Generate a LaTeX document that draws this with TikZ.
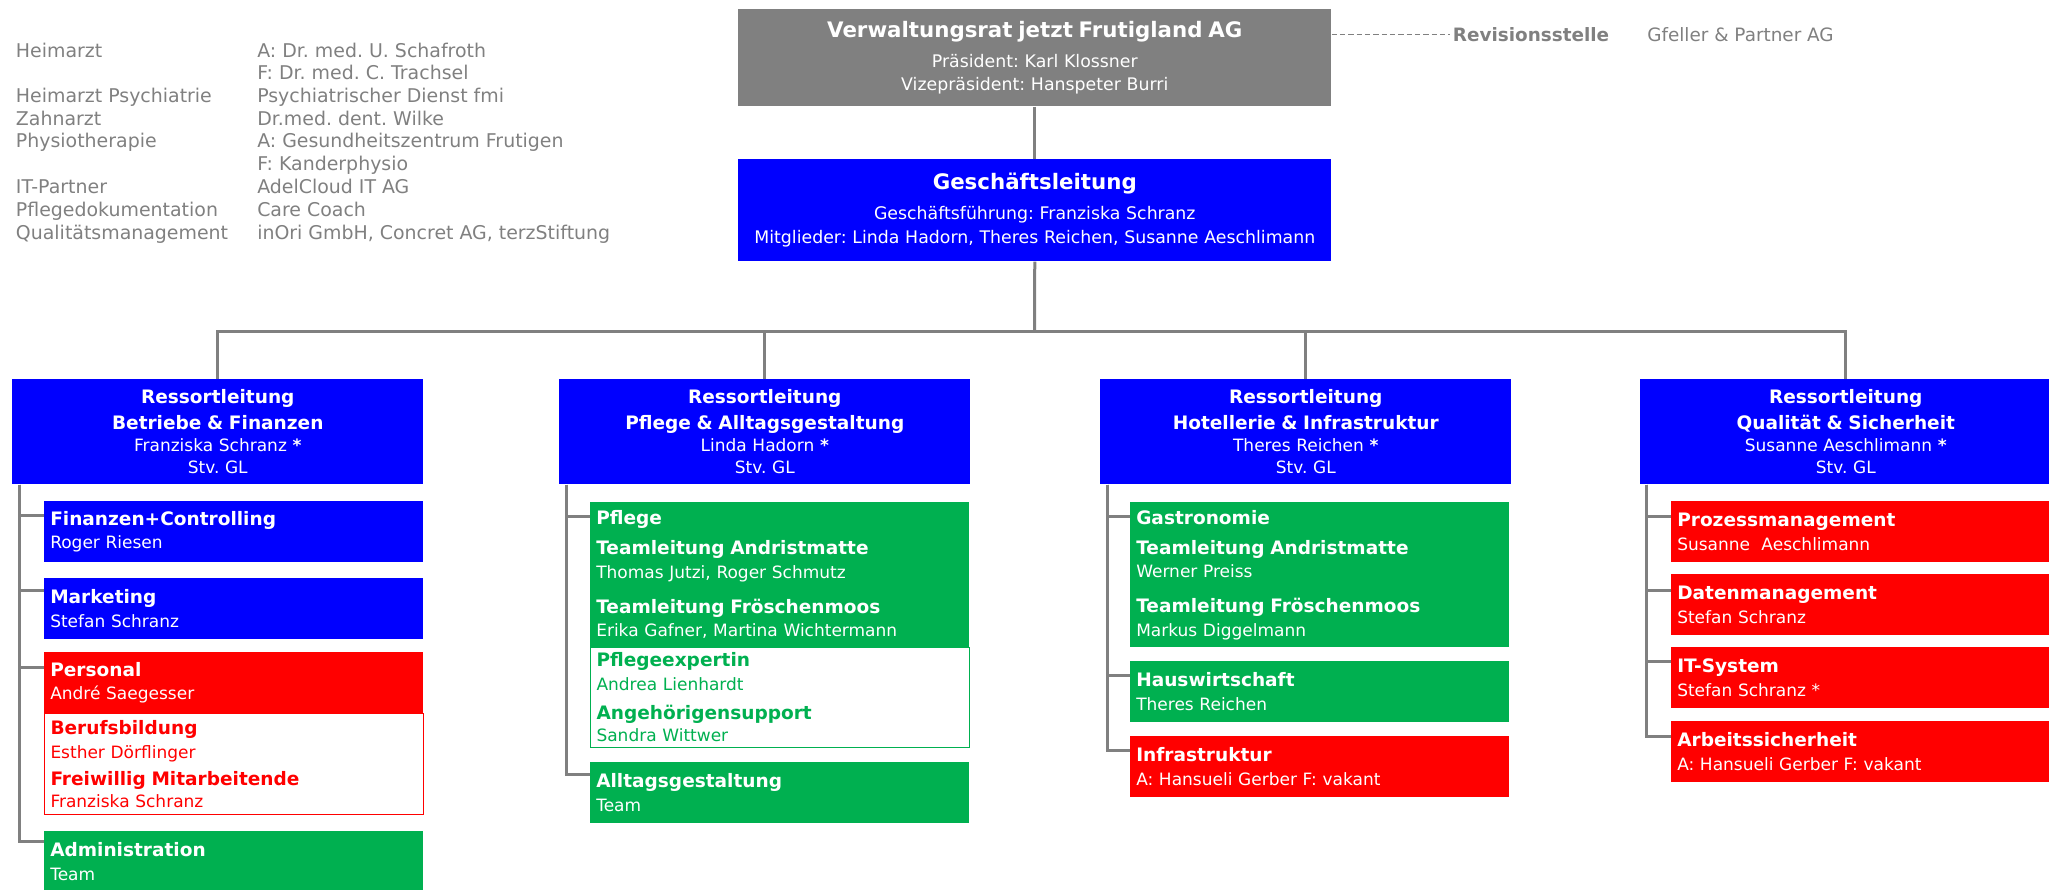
\documentclass[tikz,border=0pt]{standalone}
\usepackage{fontspec}
\setmainfont{DejaVu Sans}
\usepackage{xcolor}
\frenchspacing

\definecolor{boardgray}{RGB}{128,128,128}
\definecolor{deptblue}{RGB}{0,0,255}
\definecolor{unitgreen}{RGB}{0,176,80}
\definecolor{unitred}{RGB}{255,0,0}

\newcommand{\boardtitle}[1]{{\fontsize{16}{17.6}\selectfont\bfseries #1}}
\newcommand{\unittitle}[1]{{\fontsize{13.9}{17.6}\selectfont\bfseries #1}}

\begin{document}
\begin{tikzpicture}[x=0.75pt,y=0.75pt,yscale=-1,xscale=1,
  conn/.style={draw=boardgray, line width=2.25pt},
  auditline/.style={draw=boardgray, line width=0.75pt, dash pattern={on 4pt off 2.25pt}},
  partnertext/.style={anchor=base west, inner sep=0pt, text=boardgray, font=\fontsize{14.2}{17}\selectfont},
  headbox/.style={anchor=north west, inner xsep=4.5pt, inner ysep=0pt, text width=435.75pt, align=center, text=white, font=\fontsize{13}{17.6}\selectfont},
  deptbox/.style={anchor=north west, fill=deptblue, text=white, inner xsep=4.5pt, inner ysep=0pt, text width=299.25pt, minimum height=78.75pt, align=center, font=\fontsize{12.75}{17.6}\selectfont},
  unitbox/.style={anchor=north west, inner xsep=4.5pt, inner ysep=0pt, text width=275.25pt, minimum height=45.75pt, align=left, font=\fontsize{12.75}{17.6}\selectfont},
  bluebox/.style={unitbox, fill=deptblue, text=white},
  greenbox/.style={unitbox, fill=unitgreen, text=white},
  redbox/.style={unitbox, fill=unitred, text=white},
  greenframe/.style={unitbox, draw=unitgreen, line width=0.75pt, fill=white, text=unitgreen},
  redframe/.style={unitbox, draw=unitred, line width=0.75pt, fill=white, text=unitred}
]
  \useasboundingbox (0,0) rectangle (2049,889);

  % Text Node
  \node (doc) [partnertext] at (15.7,57) {Heimarzt};
  \node (docpsy) [partnertext] at (15.7,102.2) {Heimarzt Psychiatrie};
  \node (dentist) [partnertext] at (15.7,125) {Zahnarzt};
  \node (physio) [partnertext] at (15.7,147.8) {Physiotherapie};
  \node (itpartner) [partnertext] at (15.7,193.4) {IT-Partner};
  \node (careDoc) [partnertext] at (15.7,216.2) {Pflegedokumentation};
  \node (quality) [partnertext] at (15.7,239) {Qualitätsmanagement};
  % Text Node
  \node (docA) [partnertext] at (257,57) {A: Dr. med. U. Schafroth};
  \node (docF) [partnertext] at (257,79.6) {F: Dr. med. C. Trachsel};
  \node (docpsyName) [partnertext] at (257,102.2) {Psychiatrischer Dienst fmi};
  \node (dentistName) [partnertext] at (257,125) {Dr.med. dent. Wilke};
  \node (physioA) [partnertext] at (257,147.8) {A: Gesundheitszentrum Frutigen};
  \node (physioF) [partnertext] at (257,170.6) {F: Kanderphysio};
  \node (itpartnerName) [partnertext] at (257,193.4) {AdelCloud IT AG};
  \node (careDocName) [partnertext] at (257,216.2) {Care Coach};
  \node (qualityName) [partnertext] at (257,239) {inOri GmbH, Concret AG, terzStiftung};

  %Shape: Rectangle
  \node (vr) [headbox, fill=boardgray, minimum height=72.75pt] at (738,9) {\boardtitle{Verwaltungsrat jetzt Frutigland AG}\\[4.5pt] Präsident: Karl Klossner\\ Vizepräsident: Hanspeter Burri};
  %Shape: Rectangle
  \node (gl) [headbox, fill=deptblue, minimum height=76.5pt] at (738,159) {\boardtitle{Geschäftsleitung}\\[4.5pt] Geschäftsführung: Franziska Schranz\\[0.5pt] Mitglieder: Linda Hadorn, Theres Reichen, Susanne Aeschlimann};

  % Text Node
  \node (rev) [anchor=base west, inner xsep=2pt, inner ysep=0pt, text=boardgray, font=\fontsize{13.8}{17}\selectfont\bfseries] at (1450,41) {Revisionsstelle};
  \node (auditor) [partnertext, font=\fontsize{13.8}{17}\selectfont] at (1647,41) {Gfeller \& Partner AG};
  %Straight Lines
  \draw [auditline] (vr.east |- rev.west) -- (rev.west);

  %Shape: Rectangle
  \node (r1) [deptbox] at (12,379) {\unittitle{Ressortleitung}\\[2pt] \unittitle{Betriebe \& Finanzen}\\[-1pt] Franziska Schranz \textbf{*}\\[-1pt] Stv. GL};
  \node (r2) [deptbox] at (559,379) {\unittitle{Ressortleitung}\\[2pt] \unittitle{Pflege \& Alltagsgestaltung}\\[-1pt] Linda Hadorn \textbf{*}\\[-1pt] Stv. GL};
  \node (r3) [deptbox] at (1100,379) {\unittitle{Ressortleitung}\\[2pt] \unittitle{Hotellerie \& Infrastruktur}\\[-1pt] Theres Reichen \textbf{*}\\[-1pt] Stv. GL};
  \node (r4) [deptbox] at (1640,379) {\unittitle{Ressortleitung}\\[2pt] \unittitle{Qualität \& Sicherheit}\\[-1pt] Susanne Aeschlimann \textbf{*}\\[-1pt] Stv. GL};

  %Shape: Rectangle
  \node (fin) [bluebox] at (44,501) {\unittitle{Finanzen+Controlling}\\ Roger Riesen};
  \node (mkt) [bluebox] at (44,578) {\unittitle{Marketing}\\ Stefan Schranz};
  \node (pers) [redbox] at (44,652) {\unittitle{Personal}\\ André Saegesser};
  \node (beruf) [redframe, minimum height=75.75pt] at (44,713) {\unittitle{Berufsbildung}\\[1pt] Esther Dörflinger\\[2.5pt] \unittitle{Freiwillig Mitarbeitende}\\[-1pt] Franziska Schranz};
  \node (adm) [greenbox] at (44,831) {\unittitle{Administration}\\ Team};

  %Shape: Rectangle
  \node (pfl) [greenbox, minimum height=108.75pt] at (590,502) {\unittitle{Pflege}\\[5pt] \unittitle{Teamleitung Andristmatte}\\ Thomas Jutzi, Roger Schmutz\\[8.6pt] \unittitle{Teamleitung Fröschenmoos}\\ Erika Gafner, Martina Wichtermann};
  \node (pexp) [greenframe, minimum height=75pt] at (590,647) {\unittitle{Pflegeexpertin}\\ Andrea Lienhardt\\[4pt] \unittitle{Angehörigensupport}\\[-0.5pt] Sandra Wittwer};
  \node (allt) [greenbox] at (590,762) {\unittitle{Alltagsgestaltung}\\ Team};

  %Shape: Rectangle
  \node (gast) [greenbox, minimum height=108.75pt] at (1130,502) {\unittitle{Gastronomie}\\[5pt] \unittitle{Teamleitung Andristmatte}\\ Werner Preiss\\[8.6pt] \unittitle{Teamleitung Fröschenmoos}\\ Markus Diggelmann};
  \node (haus) [greenbox] at (1130,661) {\unittitle{Hauswirtschaft}\\ Theres Reichen};
  \node (infra) [redbox] at (1130,736) {\unittitle{Infrastruktur}\\ A: Hansueli Gerber F: vakant};

  %Shape: Rectangle
  \node (proz) [redbox] at (1671,501) {\unittitle{Prozessmanagement}\\ Susanne\ \ Aeschlimann};
  \node (daten) [redbox] at (1671,574) {\unittitle{Datenmanagement}\\ Stefan Schranz};
  \node (itsys) [redbox] at (1671,647) {\unittitle{IT-System}\\ Stefan Schranz *};
  \node (arbeit) [redbox] at (1671,721) {\unittitle{Arbeitssicherheit}\\ A: Hansueli Gerber F: vakant};

  %Straight Lines
  \coordinate (bus) at (1034.5,331);
  \draw [conn] (vr.south) -- (gl.north);
  \draw [conn] (gl.south) -- (bus);
  \draw [conn] (r1.north) |- (bus) -| (r4.north);
  \draw [conn] (r2.north) -- (r2.north |- bus);
  \draw [conn] (r3.north) -- (r3.north |- bus);

  %Straight Lines
  \draw [conn] ([xshift=5.6pt]r1.south west) |- ([yshift=10.5pt]fin.north west);
  \draw [conn] ([xshift=5.6pt]r1.south west) |- ([yshift=9.5pt]mkt.north west);
  \draw [conn] ([xshift=5.6pt]r1.south west) |- ([yshift=11.5pt]pers.north west);
  \draw [conn] ([xshift=5.6pt]r1.south west) |- ([yshift=8pt]adm.north west);
  \draw [conn] ([xshift=5.6pt]r2.south west) |- ([yshift=10.5pt]pfl.north west);
  \draw [conn] ([xshift=5.6pt]r2.south west) |- ([yshift=9pt]allt.north west);
  \draw [conn] ([xshift=5.6pt]r3.south west) |- ([yshift=10.5pt]gast.north west);
  \draw [conn] ([xshift=5.6pt]r3.south west) |- ([yshift=10.5pt]haus.north west);
  \draw [conn] ([xshift=5.6pt]r3.south west) |- ([yshift=11pt]infra.north west);
  \draw [conn] ([xshift=5pt]r4.south west) |- ([yshift=11.5pt]proz.north west);
  \draw [conn] ([xshift=5pt]r4.south west) |- ([yshift=12.5pt]daten.north west);
  \draw [conn] ([xshift=5pt]r4.south west) |- ([yshift=10.5pt]itsys.north west);
  \draw [conn] ([xshift=5pt]r4.south west) |- ([yshift=11.5pt]arbeit.north west);
\end{tikzpicture}
\end{document}
